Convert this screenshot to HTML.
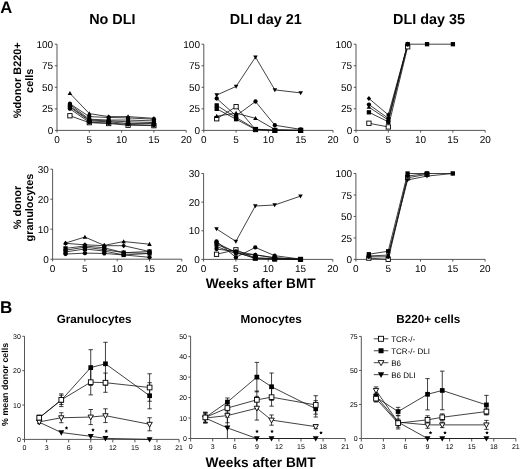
<!DOCTYPE html><html><head><meta charset="utf-8"><style>html,body{margin:0;padding:0;background:#fff;width:520px;height:469px;overflow:hidden;}svg{display:block;will-change:transform;}text{font-family:"Liberation Sans",sans-serif;text-rendering:geometricPrecision;}</style></head><body>
<svg width="520" height="469" viewBox="0 0 520 469">
<rect width="520" height="469" fill="#fff"/>
<text x="0.3" y="12.8" font-size="16.6" text-anchor="start" font-weight="bold" fill="#000">A</text>
<text x="0" y="312.5" font-size="17" text-anchor="start" font-weight="bold" fill="#000">B</text>
<text x="89.2" y="24.2" font-size="14.4" text-anchor="start" font-weight="bold" fill="#000">No DLI</text>
<text x="229.8" y="24.2" font-size="14.4" text-anchor="start" font-weight="bold" fill="#000">DLI day 21</text>
<text x="393" y="24.2" font-size="14.4" text-anchor="start" font-weight="bold" fill="#000">DLI day 35</text>
<g transform="translate(20.9,80.3) rotate(-90)"><text x="0" y="0" font-size="10.9" text-anchor="middle" font-weight="bold" fill="#000">%donor B220+</text><text x="-0.5" y="11.7" font-size="10.9" text-anchor="middle" font-weight="bold" fill="#000">cells</text></g>
<g transform="translate(21.2,207.55) rotate(-90)"><text x="0" y="0" font-size="10.9" text-anchor="middle" font-weight="bold" fill="#000">% donor</text><text x="0" y="12" font-size="10.9" text-anchor="middle" font-weight="bold" fill="#000">granulocytes</text></g>
<text x="205.7" y="287.6" font-size="13.7" text-anchor="start" font-weight="bold" fill="#000">Weeks after BMT</text>
<text x="205.5" y="467.4" font-size="13.7" text-anchor="start" font-weight="bold" fill="#000">Weeks after BMT</text>
<path d="M57 44.2V130.4H186.2" fill="none" stroke="#444" stroke-width="0.9"/>
<path d="M54.8 130.4H57" stroke="#444" stroke-width="0.9"/>
<text x="53.2" y="133.98" font-size="10" text-anchor="end" fill="#000">0</text>
<path d="M54.8 108.85H57" stroke="#444" stroke-width="0.9"/>
<text x="53.2" y="112.43" font-size="10" text-anchor="end" fill="#000">25</text>
<path d="M54.8 87.3H57" stroke="#444" stroke-width="0.9"/>
<text x="53.2" y="90.88" font-size="10" text-anchor="end" fill="#000">50</text>
<path d="M54.8 65.75H57" stroke="#444" stroke-width="0.9"/>
<text x="53.2" y="69.33" font-size="10" text-anchor="end" fill="#000">75</text>
<path d="M54.8 44.2H57" stroke="#444" stroke-width="0.9"/>
<text x="53.2" y="47.78" font-size="10" text-anchor="end" fill="#000">100</text>
<path d="M57 130.4V132.6" stroke="#444" stroke-width="0.9"/>
<text x="57" y="143.2" font-size="10" text-anchor="middle" fill="#000">0</text>
<path d="M89.3 130.4V132.6" stroke="#444" stroke-width="0.9"/>
<text x="89.3" y="143.2" font-size="10" text-anchor="middle" fill="#000">5</text>
<path d="M121.6 130.4V132.6" stroke="#444" stroke-width="0.9"/>
<text x="121.6" y="143.2" font-size="10" text-anchor="middle" fill="#000">10</text>
<path d="M153.9 130.4V132.6" stroke="#444" stroke-width="0.9"/>
<text x="153.9" y="143.2" font-size="10" text-anchor="middle" fill="#000">15</text>
<path d="M186.2 130.4V132.6" stroke="#444" stroke-width="0.9"/>
<text x="186.2" y="143.2" font-size="10" text-anchor="middle" fill="#000">20</text>
<path d="M203.8 44.2V130.4H333" fill="none" stroke="#444" stroke-width="0.9"/>
<path d="M201.6 130.4H203.8" stroke="#444" stroke-width="0.9"/>
<text x="200" y="133.98" font-size="10" text-anchor="end" fill="#000">0</text>
<path d="M201.6 108.85H203.8" stroke="#444" stroke-width="0.9"/>
<text x="200" y="112.43" font-size="10" text-anchor="end" fill="#000">25</text>
<path d="M201.6 87.3H203.8" stroke="#444" stroke-width="0.9"/>
<text x="200" y="90.88" font-size="10" text-anchor="end" fill="#000">50</text>
<path d="M201.6 65.75H203.8" stroke="#444" stroke-width="0.9"/>
<text x="200" y="69.33" font-size="10" text-anchor="end" fill="#000">75</text>
<path d="M201.6 44.2H203.8" stroke="#444" stroke-width="0.9"/>
<text x="200" y="47.78" font-size="10" text-anchor="end" fill="#000">100</text>
<path d="M203.8 130.4V132.6" stroke="#444" stroke-width="0.9"/>
<text x="203.8" y="143.2" font-size="10" text-anchor="middle" fill="#000">0</text>
<path d="M236.1 130.4V132.6" stroke="#444" stroke-width="0.9"/>
<text x="236.1" y="143.2" font-size="10" text-anchor="middle" fill="#000">5</text>
<path d="M268.4 130.4V132.6" stroke="#444" stroke-width="0.9"/>
<text x="268.4" y="143.2" font-size="10" text-anchor="middle" fill="#000">10</text>
<path d="M300.7 130.4V132.6" stroke="#444" stroke-width="0.9"/>
<text x="300.7" y="143.2" font-size="10" text-anchor="middle" fill="#000">15</text>
<path d="M333 130.4V132.6" stroke="#444" stroke-width="0.9"/>
<text x="333" y="143.2" font-size="10" text-anchor="middle" fill="#000">20</text>
<path d="M356 44.2V130.4H485.2" fill="none" stroke="#444" stroke-width="0.9"/>
<path d="M353.8 130.4H356" stroke="#444" stroke-width="0.9"/>
<text x="352.2" y="133.98" font-size="10" text-anchor="end" fill="#000">0</text>
<path d="M353.8 108.85H356" stroke="#444" stroke-width="0.9"/>
<text x="352.2" y="112.43" font-size="10" text-anchor="end" fill="#000">25</text>
<path d="M353.8 87.3H356" stroke="#444" stroke-width="0.9"/>
<text x="352.2" y="90.88" font-size="10" text-anchor="end" fill="#000">50</text>
<path d="M353.8 65.75H356" stroke="#444" stroke-width="0.9"/>
<text x="352.2" y="69.33" font-size="10" text-anchor="end" fill="#000">75</text>
<path d="M353.8 44.2H356" stroke="#444" stroke-width="0.9"/>
<text x="352.2" y="47.78" font-size="10" text-anchor="end" fill="#000">100</text>
<path d="M356 130.4V132.6" stroke="#444" stroke-width="0.9"/>
<text x="356" y="143.2" font-size="10" text-anchor="middle" fill="#000">0</text>
<path d="M388.3 130.4V132.6" stroke="#444" stroke-width="0.9"/>
<text x="388.3" y="143.2" font-size="10" text-anchor="middle" fill="#000">5</text>
<path d="M420.6 130.4V132.6" stroke="#444" stroke-width="0.9"/>
<text x="420.6" y="143.2" font-size="10" text-anchor="middle" fill="#000">10</text>
<path d="M452.9 130.4V132.6" stroke="#444" stroke-width="0.9"/>
<text x="452.9" y="143.2" font-size="10" text-anchor="middle" fill="#000">15</text>
<path d="M485.2 130.4V132.6" stroke="#444" stroke-width="0.9"/>
<text x="485.2" y="143.2" font-size="10" text-anchor="middle" fill="#000">20</text>
<polyline points="69.92,115.75 89.3,122.64 108.68,123.5 128.06,125.23 153.9,125.66" fill="none" stroke="#111" stroke-width="0.8"/>
<polyline points="69.92,93.33 89.3,113.59 108.68,116.61 128.06,116.61 153.9,118.33" fill="none" stroke="#111" stroke-width="0.8"/>
<polyline points="69.92,103.68 89.3,116.61 108.68,117.47 128.06,117.9 153.9,119.19" fill="none" stroke="#111" stroke-width="0.8"/>
<polyline points="69.92,104.54 89.3,119.19 108.68,120.06 128.06,120.06 153.9,120.92" fill="none" stroke="#111" stroke-width="0.8"/>
<polyline points="69.92,106.26 89.3,120.06 108.68,120.92 128.06,121.78 153.9,122.64" fill="none" stroke="#111" stroke-width="0.8"/>
<polyline points="69.92,107.13 89.3,120.92 108.68,121.78 128.06,123.5 153.9,123.5" fill="none" stroke="#111" stroke-width="0.8"/>
<polyline points="69.92,108.85 89.3,122.21 108.68,123.07 128.06,124.37 153.9,125.23" fill="none" stroke="#111" stroke-width="0.8"/>
<rect x="67.77" y="113.6" width="4.3" height="4.3" fill="#fff" stroke="#000" stroke-width="0.9"/>
<rect x="87.15" y="120.49" width="4.3" height="4.3" fill="#fff" stroke="#000" stroke-width="0.9"/>
<rect x="106.53" y="121.35" width="4.3" height="4.3" fill="#fff" stroke="#000" stroke-width="0.9"/>
<rect x="125.91" y="123.08" width="4.3" height="4.3" fill="#fff" stroke="#000" stroke-width="0.9"/>
<rect x="151.75" y="123.51" width="4.3" height="4.3" fill="#fff" stroke="#000" stroke-width="0.9"/>
<path d="M69.92 90.97L72.18 95.05L67.66 95.05Z" fill="#000"/>
<path d="M89.3 111.23L91.56 115.31L87.04 115.31Z" fill="#000"/>
<path d="M108.68 114.24L110.94 118.33L106.42 118.33Z" fill="#000"/>
<path d="M128.06 114.24L130.32 118.33L125.8 118.33Z" fill="#000"/>
<path d="M153.9 115.97L156.16 120.05L151.64 120.05Z" fill="#000"/>
<circle cx="69.92" cy="103.68" r="2.15" fill="#000"/>
<circle cx="89.3" cy="116.61" r="2.15" fill="#000"/>
<circle cx="108.68" cy="117.47" r="2.15" fill="#000"/>
<circle cx="128.06" cy="117.9" r="2.15" fill="#000"/>
<circle cx="153.9" cy="119.19" r="2.15" fill="#000"/>
<circle cx="69.92" cy="104.54" r="2.15" fill="#000"/>
<circle cx="89.3" cy="119.19" r="2.15" fill="#000"/>
<circle cx="108.68" cy="120.06" r="2.15" fill="#000"/>
<circle cx="128.06" cy="120.06" r="2.15" fill="#000"/>
<circle cx="153.9" cy="120.92" r="2.15" fill="#000"/>
<path d="M69.92 103.68L72.07 106.26L69.92 108.84L67.77 106.26Z" fill="#000"/>
<path d="M89.3 117.48L91.45 120.06L89.3 122.64L87.15 120.06Z" fill="#000"/>
<path d="M108.68 118.34L110.83 120.92L108.68 123.5L106.53 120.92Z" fill="#000"/>
<path d="M128.06 119.2L130.21 121.78L128.06 124.36L125.91 121.78Z" fill="#000"/>
<path d="M153.9 120.06L156.05 122.64L153.9 125.22L151.75 122.64Z" fill="#000"/>
<rect x="67.77" y="104.98" width="4.3" height="4.3" fill="#000"/>
<rect x="87.15" y="118.77" width="4.3" height="4.3" fill="#000"/>
<rect x="106.53" y="119.63" width="4.3" height="4.3" fill="#000"/>
<rect x="125.91" y="121.35" width="4.3" height="4.3" fill="#000"/>
<rect x="151.75" y="121.35" width="4.3" height="4.3" fill="#000"/>
<circle cx="69.92" cy="108.85" r="2.15" fill="#000"/>
<circle cx="89.3" cy="122.21" r="2.15" fill="#000"/>
<circle cx="108.68" cy="123.07" r="2.15" fill="#000"/>
<circle cx="128.06" cy="124.37" r="2.15" fill="#000"/>
<circle cx="153.9" cy="125.23" r="2.15" fill="#000"/>
<polyline points="216.72,118.76 236.1,106.7 255.48,129.54 274.86,130.4 300.7,130.4" fill="none" stroke="#111" stroke-width="0.8"/>
<polyline points="216.72,95.06 236.1,86.44 255.48,57.13 274.86,89.89 300.7,92.9" fill="none" stroke="#111" stroke-width="0.8"/>
<polyline points="216.72,98.51 236.1,115.75 255.48,101.52 274.86,125.23 300.7,129.37" fill="none" stroke="#111" stroke-width="0.8"/>
<polyline points="216.72,105.4 236.1,117.47 255.48,129.11 274.86,130.4 300.7,130.4" fill="none" stroke="#111" stroke-width="0.8"/>
<polyline points="216.72,108.85 236.1,119.19 255.48,129.54 274.86,130.4 300.7,130.4" fill="none" stroke="#111" stroke-width="0.8"/>
<polyline points="216.72,116.18 236.1,113.16 255.48,118.33 274.86,129.54 300.7,130.4" fill="none" stroke="#111" stroke-width="0.8"/>
<rect x="214.57" y="116.61" width="4.3" height="4.3" fill="#fff" stroke="#000" stroke-width="0.9"/>
<rect x="233.95" y="104.55" width="4.3" height="4.3" fill="#fff" stroke="#000" stroke-width="0.9"/>
<rect x="253.33" y="127.39" width="4.3" height="4.3" fill="#fff" stroke="#000" stroke-width="0.9"/>
<rect x="272.71" y="128.25" width="4.3" height="4.3" fill="#fff" stroke="#000" stroke-width="0.9"/>
<rect x="298.55" y="128.25" width="4.3" height="4.3" fill="#fff" stroke="#000" stroke-width="0.9"/>
<path d="M216.72 97.42L218.98 93.34L214.46 93.34Z" fill="#000"/>
<path d="M236.1 88.8L238.36 84.72L233.84 84.72Z" fill="#000"/>
<path d="M255.48 59.5L257.74 55.41L253.22 55.41Z" fill="#000"/>
<path d="M274.86 92.25L277.12 88.17L272.6 88.17Z" fill="#000"/>
<path d="M300.7 95.27L302.96 91.18L298.44 91.18Z" fill="#000"/>
<circle cx="216.72" cy="98.51" r="2.15" fill="#000"/>
<circle cx="236.1" cy="115.75" r="2.15" fill="#000"/>
<circle cx="255.48" cy="101.52" r="2.15" fill="#000"/>
<circle cx="274.86" cy="125.23" r="2.15" fill="#000"/>
<circle cx="300.7" cy="129.37" r="2.15" fill="#000"/>
<rect x="214.57" y="103.25" width="4.3" height="4.3" fill="#000"/>
<rect x="233.95" y="115.32" width="4.3" height="4.3" fill="#000"/>
<rect x="253.33" y="126.96" width="4.3" height="4.3" fill="#000"/>
<rect x="272.71" y="128.25" width="4.3" height="4.3" fill="#000"/>
<rect x="298.55" y="128.25" width="4.3" height="4.3" fill="#000"/>
<rect x="214.57" y="106.7" width="4.3" height="4.3" fill="#000"/>
<rect x="233.95" y="117.04" width="4.3" height="4.3" fill="#000"/>
<rect x="253.33" y="127.39" width="4.3" height="4.3" fill="#000"/>
<rect x="272.71" y="128.25" width="4.3" height="4.3" fill="#000"/>
<rect x="298.55" y="128.25" width="4.3" height="4.3" fill="#000"/>
<path d="M216.72 113.81L218.98 117.9L214.46 117.9Z" fill="#000"/>
<path d="M236.1 110.8L238.36 114.88L233.84 114.88Z" fill="#000"/>
<path d="M255.48 115.97L257.74 120.05L253.22 120.05Z" fill="#000"/>
<path d="M274.86 127.17L277.12 131.26L272.6 131.26Z" fill="#000"/>
<path d="M300.7 128.03L302.96 132.12L298.44 132.12Z" fill="#000"/>
<polyline points="368.92,123.25 388.3,126.95 407.68,46.79" fill="none" stroke="#111" stroke-width="0.8"/>
<polyline points="368.92,98.51 388.3,114.88 407.68,44.2" fill="none" stroke="#111" stroke-width="0.8"/>
<polyline points="368.92,104.54 388.3,118.33 407.68,44.2" fill="none" stroke="#111" stroke-width="0.8"/>
<polyline points="368.92,107.13 388.3,120.06 407.68,44.2" fill="none" stroke="#111" stroke-width="0.8"/>
<polyline points="368.92,112.3 388.3,121.78 407.68,44.2 427.06,44.2 452.9,44.2" fill="none" stroke="#111" stroke-width="0.8"/>
<rect x="366.77" y="121.1" width="4.3" height="4.3" fill="#fff" stroke="#000" stroke-width="0.9"/>
<rect x="386.15" y="124.8" width="4.3" height="4.3" fill="#fff" stroke="#000" stroke-width="0.9"/>
<rect x="405.53" y="44.64" width="4.3" height="4.3" fill="#fff" stroke="#000" stroke-width="0.9"/>
<path d="M368.92 95.93L371.07 98.51L368.92 101.09L366.77 98.51Z" fill="#000"/>
<path d="M388.3 112.3L390.45 114.88L388.3 117.46L386.15 114.88Z" fill="#000"/>
<path d="M407.68 41.62L409.83 44.2L407.68 46.78L405.53 44.2Z" fill="#000"/>
<circle cx="368.92" cy="104.54" r="2.15" fill="#000"/>
<circle cx="388.3" cy="118.33" r="2.15" fill="#000"/>
<circle cx="407.68" cy="44.2" r="2.15" fill="#000"/>
<path d="M368.92 104.76L371.18 108.85L366.66 108.85Z" fill="#000"/>
<path d="M388.3 117.69L390.56 121.78L386.04 121.78Z" fill="#000"/>
<path d="M407.68 41.84L409.94 45.92L405.42 45.92Z" fill="#000"/>
<rect x="366.77" y="110.15" width="4.3" height="4.3" fill="#000"/>
<rect x="386.15" y="119.63" width="4.3" height="4.3" fill="#000"/>
<rect x="405.53" y="42.05" width="4.3" height="4.3" fill="#000"/>
<rect x="424.91" y="42.05" width="4.3" height="4.3" fill="#000"/>
<rect x="450.75" y="42.05" width="4.3" height="4.3" fill="#000"/>
<path d="M52.6 169.2V259.2H181.8" fill="none" stroke="#444" stroke-width="0.9"/>
<path d="M50.4 259.2H52.6" stroke="#444" stroke-width="0.9"/>
<text x="48.8" y="262.78" font-size="10" text-anchor="end" fill="#000">0</text>
<path d="M50.4 229.2H52.6" stroke="#444" stroke-width="0.9"/>
<text x="48.8" y="232.78" font-size="10" text-anchor="end" fill="#000">10</text>
<path d="M50.4 199.2H52.6" stroke="#444" stroke-width="0.9"/>
<text x="48.8" y="202.78" font-size="10" text-anchor="end" fill="#000">20</text>
<path d="M50.4 169.2H52.6" stroke="#444" stroke-width="0.9"/>
<text x="48.8" y="172.78" font-size="10" text-anchor="end" fill="#000">30</text>
<path d="M52.6 259.2V261.4" stroke="#444" stroke-width="0.9"/>
<text x="52.6" y="272" font-size="10" text-anchor="middle" fill="#000">0</text>
<path d="M84.9 259.2V261.4" stroke="#444" stroke-width="0.9"/>
<text x="84.9" y="272" font-size="10" text-anchor="middle" fill="#000">5</text>
<path d="M117.2 259.2V261.4" stroke="#444" stroke-width="0.9"/>
<text x="117.2" y="272" font-size="10" text-anchor="middle" fill="#000">10</text>
<path d="M149.5 259.2V261.4" stroke="#444" stroke-width="0.9"/>
<text x="149.5" y="272" font-size="10" text-anchor="middle" fill="#000">15</text>
<path d="M181.8 259.2V261.4" stroke="#444" stroke-width="0.9"/>
<text x="181.8" y="272" font-size="10" text-anchor="middle" fill="#000">20</text>
<path d="M203.6 173.51V259.4H332.8" fill="none" stroke="#444" stroke-width="0.9"/>
<path d="M201.4 259.4H203.6" stroke="#444" stroke-width="0.9"/>
<text x="199.8" y="262.98" font-size="10" text-anchor="end" fill="#000">0</text>
<path d="M201.4 230.77H203.6" stroke="#444" stroke-width="0.9"/>
<text x="199.8" y="234.35" font-size="10" text-anchor="end" fill="#000">10</text>
<path d="M201.4 202.14H203.6" stroke="#444" stroke-width="0.9"/>
<text x="199.8" y="205.72" font-size="10" text-anchor="end" fill="#000">20</text>
<path d="M201.4 173.51H203.6" stroke="#444" stroke-width="0.9"/>
<text x="199.8" y="177.09" font-size="10" text-anchor="end" fill="#000">30</text>
<path d="M203.6 259.4V261.6" stroke="#444" stroke-width="0.9"/>
<text x="203.6" y="272.2" font-size="10" text-anchor="middle" fill="#000">0</text>
<path d="M235.9 259.4V261.6" stroke="#444" stroke-width="0.9"/>
<text x="235.9" y="272.2" font-size="10" text-anchor="middle" fill="#000">5</text>
<path d="M268.2 259.4V261.6" stroke="#444" stroke-width="0.9"/>
<text x="268.2" y="272.2" font-size="10" text-anchor="middle" fill="#000">10</text>
<path d="M300.5 259.4V261.6" stroke="#444" stroke-width="0.9"/>
<text x="300.5" y="272.2" font-size="10" text-anchor="middle" fill="#000">15</text>
<path d="M332.8 259.4V261.6" stroke="#444" stroke-width="0.9"/>
<text x="332.8" y="272.2" font-size="10" text-anchor="middle" fill="#000">20</text>
<path d="M355.9 173.5V259.4H485.1" fill="none" stroke="#444" stroke-width="0.9"/>
<path d="M353.7 259.4H355.9" stroke="#444" stroke-width="0.9"/>
<text x="352.1" y="262.98" font-size="10" text-anchor="end" fill="#000">0</text>
<path d="M353.7 237.92H355.9" stroke="#444" stroke-width="0.9"/>
<text x="352.1" y="241.5" font-size="10" text-anchor="end" fill="#000">25</text>
<path d="M353.7 216.45H355.9" stroke="#444" stroke-width="0.9"/>
<text x="352.1" y="220.03" font-size="10" text-anchor="end" fill="#000">50</text>
<path d="M353.7 194.97H355.9" stroke="#444" stroke-width="0.9"/>
<text x="352.1" y="198.55" font-size="10" text-anchor="end" fill="#000">75</text>
<path d="M353.7 173.5H355.9" stroke="#444" stroke-width="0.9"/>
<text x="352.1" y="177.08" font-size="10" text-anchor="end" fill="#000">100</text>
<path d="M355.9 259.4V261.6" stroke="#444" stroke-width="0.9"/>
<text x="355.9" y="272.2" font-size="10" text-anchor="middle" fill="#000">0</text>
<path d="M388.2 259.4V261.6" stroke="#444" stroke-width="0.9"/>
<text x="388.2" y="272.2" font-size="10" text-anchor="middle" fill="#000">5</text>
<path d="M420.5 259.4V261.6" stroke="#444" stroke-width="0.9"/>
<text x="420.5" y="272.2" font-size="10" text-anchor="middle" fill="#000">10</text>
<path d="M452.8 259.4V261.6" stroke="#444" stroke-width="0.9"/>
<text x="452.8" y="272.2" font-size="10" text-anchor="middle" fill="#000">15</text>
<path d="M485.1 259.4V261.6" stroke="#444" stroke-width="0.9"/>
<text x="485.1" y="272.2" font-size="10" text-anchor="middle" fill="#000">20</text>
<polyline points="65.52,243.03 84.9,237.06 104.28,245.4 123.66,241.53 149.5,244.23" fill="none" stroke="#111" stroke-width="0.8"/>
<polyline points="65.52,243.33 84.9,244.8 104.28,245.7 123.66,245.7 149.5,251.52" fill="none" stroke="#111" stroke-width="0.8"/>
<polyline points="65.52,248.37 84.9,246 104.28,247.8 123.66,252.69 149.5,251.52" fill="none" stroke="#111" stroke-width="0.8"/>
<polyline points="65.52,250.17 84.9,247.2 104.28,249.57 123.66,252.69 149.5,253.44" fill="none" stroke="#111" stroke-width="0.8"/>
<polyline points="65.52,251.94 84.9,248.97 104.28,251.07 123.66,254.94 149.5,253.44" fill="none" stroke="#111" stroke-width="0.8"/>
<polyline points="65.52,254.04 84.9,253.14 104.28,253.44 123.66,254.94 149.5,257.31" fill="none" stroke="#111" stroke-width="0.8"/>
<path d="M65.52 240.66L67.78 244.75L63.26 244.75Z" fill="#000"/>
<path d="M84.9 234.69L87.16 238.78L82.64 238.78Z" fill="#000"/>
<path d="M104.28 243.03L106.54 247.12L102.02 247.12Z" fill="#000"/>
<path d="M123.66 239.16L125.92 243.25L121.4 243.25Z" fill="#000"/>
<path d="M149.5 241.86L151.76 245.95L147.24 245.95Z" fill="#000"/>
<path d="M65.52 240.75L67.67 243.33L65.52 245.91L63.37 243.33Z" fill="#000"/>
<path d="M84.9 242.22L87.05 244.8L84.9 247.38L82.75 244.8Z" fill="#000"/>
<path d="M104.28 243.12L106.43 245.7L104.28 248.28L102.13 245.7Z" fill="#000"/>
<path d="M123.66 243.12L125.81 245.7L123.66 248.28L121.51 245.7Z" fill="#000"/>
<path d="M149.5 248.94L151.65 251.52L149.5 254.1L147.35 251.52Z" fill="#000"/>
<rect x="63.37" y="246.22" width="4.3" height="4.3" fill="#000"/>
<rect x="82.75" y="243.85" width="4.3" height="4.3" fill="#000"/>
<rect x="102.13" y="245.65" width="4.3" height="4.3" fill="#000"/>
<rect x="121.51" y="250.54" width="4.3" height="4.3" fill="#000"/>
<rect x="147.35" y="249.37" width="4.3" height="4.3" fill="#000"/>
<path d="M65.52 247.59L67.67 250.17L65.52 252.75L63.37 250.17Z" fill="#000"/>
<path d="M84.9 244.62L87.05 247.2L84.9 249.78L82.75 247.2Z" fill="#000"/>
<path d="M104.28 246.99L106.43 249.57L104.28 252.15L102.13 249.57Z" fill="#000"/>
<path d="M123.66 250.11L125.81 252.69L123.66 255.27L121.51 252.69Z" fill="#000"/>
<path d="M149.5 250.86L151.65 253.44L149.5 256.02L147.35 253.44Z" fill="#000"/>
<rect x="63.37" y="249.79" width="4.3" height="4.3" fill="#000"/>
<rect x="82.75" y="246.82" width="4.3" height="4.3" fill="#000"/>
<rect x="102.13" y="248.92" width="4.3" height="4.3" fill="#000"/>
<rect x="121.51" y="252.79" width="4.3" height="4.3" fill="#000"/>
<rect x="147.35" y="251.29" width="4.3" height="4.3" fill="#000"/>
<circle cx="65.52" cy="254.04" r="2.15" fill="#000"/>
<circle cx="84.9" cy="253.14" r="2.15" fill="#000"/>
<circle cx="104.28" cy="253.44" r="2.15" fill="#000"/>
<circle cx="123.66" cy="254.94" r="2.15" fill="#000"/>
<circle cx="149.5" cy="257.31" r="2.15" fill="#000"/>
<polyline points="216.52,254.25 235.9,249.81 255.28,257.97 274.66,258.83 300.5,259.4" fill="none" stroke="#111" stroke-width="0.8"/>
<polyline points="216.52,228.91 235.9,241.36 255.28,206.01 274.66,205 300.5,196.13" fill="none" stroke="#111" stroke-width="0.8"/>
<polyline points="216.52,241.36 235.9,257.4 255.28,247.38 274.66,255.68 300.5,259.11" fill="none" stroke="#111" stroke-width="0.8"/>
<polyline points="216.52,242.79 235.9,252.53 255.28,257.97 274.66,258.54 300.5,259.4" fill="none" stroke="#111" stroke-width="0.8"/>
<polyline points="216.52,244.51 235.9,251.96 255.28,258.54 274.66,259.4 300.5,259.4" fill="none" stroke="#111" stroke-width="0.8"/>
<polyline points="216.52,249.09 235.9,251.38 255.28,254.82 274.66,257.68 300.5,259.4" fill="none" stroke="#111" stroke-width="0.8"/>
<polyline points="216.52,246.52 235.9,253.67 255.28,254.82 274.66,257.97 300.5,259.4" fill="none" stroke="#111" stroke-width="0.8"/>
<rect x="214.37" y="252.1" width="4.3" height="4.3" fill="#fff" stroke="#000" stroke-width="0.9"/>
<rect x="233.75" y="247.66" width="4.3" height="4.3" fill="#fff" stroke="#000" stroke-width="0.9"/>
<rect x="253.13" y="255.82" width="4.3" height="4.3" fill="#fff" stroke="#000" stroke-width="0.9"/>
<rect x="272.51" y="256.68" width="4.3" height="4.3" fill="#fff" stroke="#000" stroke-width="0.9"/>
<rect x="298.35" y="257.25" width="4.3" height="4.3" fill="#fff" stroke="#000" stroke-width="0.9"/>
<path d="M216.52 231.27L218.78 227.19L214.26 227.19Z" fill="#000"/>
<path d="M235.9 243.73L238.16 239.64L233.64 239.64Z" fill="#000"/>
<path d="M255.28 208.37L257.54 204.29L253.02 204.29Z" fill="#000"/>
<path d="M274.66 207.37L276.92 203.28L272.4 203.28Z" fill="#000"/>
<path d="M300.5 198.49L302.76 194.41L298.24 194.41Z" fill="#000"/>
<circle cx="216.52" cy="241.36" r="2.15" fill="#000"/>
<circle cx="235.9" cy="257.4" r="2.15" fill="#000"/>
<circle cx="255.28" cy="247.38" r="2.15" fill="#000"/>
<circle cx="274.66" cy="255.68" r="2.15" fill="#000"/>
<circle cx="300.5" cy="259.11" r="2.15" fill="#000"/>
<circle cx="216.52" cy="242.79" r="2.15" fill="#000"/>
<circle cx="235.9" cy="252.53" r="2.15" fill="#000"/>
<circle cx="255.28" cy="257.97" r="2.15" fill="#000"/>
<circle cx="274.66" cy="258.54" r="2.15" fill="#000"/>
<circle cx="300.5" cy="259.4" r="2.15" fill="#000"/>
<rect x="214.37" y="242.36" width="4.3" height="4.3" fill="#000"/>
<rect x="233.75" y="249.81" width="4.3" height="4.3" fill="#000"/>
<rect x="253.13" y="256.39" width="4.3" height="4.3" fill="#000"/>
<rect x="272.51" y="257.25" width="4.3" height="4.3" fill="#000"/>
<rect x="298.35" y="257.25" width="4.3" height="4.3" fill="#000"/>
<circle cx="216.52" cy="249.09" r="2.15" fill="#000"/>
<circle cx="235.9" cy="251.38" r="2.15" fill="#000"/>
<circle cx="255.28" cy="254.82" r="2.15" fill="#000"/>
<circle cx="274.66" cy="257.68" r="2.15" fill="#000"/>
<circle cx="300.5" cy="259.4" r="2.15" fill="#000"/>
<path d="M216.52 244.15L218.78 248.24L214.26 248.24Z" fill="#000"/>
<path d="M235.9 251.31L238.16 255.39L233.64 255.39Z" fill="#000"/>
<path d="M255.28 252.45L257.54 256.54L253.02 256.54Z" fill="#000"/>
<path d="M274.66 255.6L276.92 259.69L272.4 259.69Z" fill="#000"/>
<path d="M300.5 257.03L302.76 261.12L298.24 261.12Z" fill="#000"/>
<polyline points="368.82,258.11 388.2,259.4 407.58,177.79 426.96,174.36" fill="none" stroke="#111" stroke-width="0.8"/>
<polyline points="368.82,256.82 388.2,256.82 407.58,176.08 426.96,173.5" fill="none" stroke="#111" stroke-width="0.8"/>
<polyline points="368.82,255.96 388.2,255.1 407.58,179.94 426.96,176.08 452.8,173.5" fill="none" stroke="#111" stroke-width="0.8"/>
<polyline points="368.82,254.25 388.2,251.24 407.58,173.5 426.96,173.5 452.8,173.5" fill="none" stroke="#111" stroke-width="0.8"/>
<rect x="366.67" y="255.96" width="4.3" height="4.3" fill="#fff" stroke="#000" stroke-width="0.9"/>
<rect x="386.05" y="257.25" width="4.3" height="4.3" fill="#fff" stroke="#000" stroke-width="0.9"/>
<rect x="405.43" y="175.64" width="4.3" height="4.3" fill="#fff" stroke="#000" stroke-width="0.9"/>
<rect x="424.81" y="172.21" width="4.3" height="4.3" fill="#fff" stroke="#000" stroke-width="0.9"/>
<circle cx="368.82" cy="256.82" r="2.15" fill="#000"/>
<circle cx="388.2" cy="256.82" r="2.15" fill="#000"/>
<circle cx="407.58" cy="176.08" r="2.15" fill="#000"/>
<circle cx="426.96" cy="173.5" r="2.15" fill="#000"/>
<path d="M368.82 258.33L371.08 254.24L366.56 254.24Z" fill="#000"/>
<path d="M388.2 257.47L390.46 253.38L385.94 253.38Z" fill="#000"/>
<path d="M407.58 182.31L409.84 178.22L405.32 178.22Z" fill="#000"/>
<path d="M426.96 178.44L429.22 174.36L424.7 174.36Z" fill="#000"/>
<path d="M452.8 175.86L455.06 171.78L450.54 171.78Z" fill="#000"/>
<rect x="366.67" y="252.1" width="4.3" height="4.3" fill="#000"/>
<rect x="386.05" y="249.09" width="4.3" height="4.3" fill="#000"/>
<rect x="405.43" y="171.35" width="4.3" height="4.3" fill="#000"/>
<rect x="424.81" y="171.35" width="4.3" height="4.3" fill="#000"/>
<rect x="450.65" y="171.35" width="4.3" height="4.3" fill="#000"/>
<text x="56.7" y="323.3" font-size="11.7" text-anchor="start" font-weight="bold" fill="#000">Granulocytes</text>
<text x="240.6" y="323.3" font-size="11.7" text-anchor="start" font-weight="bold" fill="#000">Monocytes</text>
<text x="396.3" y="323.3" font-size="11.7" text-anchor="start" font-weight="bold" fill="#000">B220+ cells</text>
<g transform="translate(7.8,384.4) rotate(-90)"><text x="0" y="0" font-size="8.85" text-anchor="middle" font-weight="bold" fill="#000">% mean donor cells</text></g>
<path d="M24.5 336.29V439.4H179.06" fill="none" stroke="#444" stroke-width="0.9"/>
<path d="M22.3 439.4H24.5" stroke="#444" stroke-width="0.9"/>
<text x="20.9" y="441.91" font-size="7" text-anchor="end" fill="#000">0</text>
<path d="M22.3 405.03H24.5" stroke="#444" stroke-width="0.9"/>
<text x="20.9" y="407.54" font-size="7" text-anchor="end" fill="#000">10</text>
<path d="M22.3 370.66H24.5" stroke="#444" stroke-width="0.9"/>
<text x="20.9" y="373.17" font-size="7" text-anchor="end" fill="#000">20</text>
<path d="M22.3 336.29H24.5" stroke="#444" stroke-width="0.9"/>
<text x="20.9" y="338.8" font-size="7" text-anchor="end" fill="#000">30</text>
<path d="M24.5 439.4V442.4" stroke="#444" stroke-width="0.9"/>
<text x="24.5" y="449.9" font-size="7" text-anchor="middle" fill="#000">0</text>
<path d="M46.58 439.4V442.4" stroke="#444" stroke-width="0.9"/>
<text x="46.58" y="449.9" font-size="7" text-anchor="middle" fill="#000">3</text>
<path d="M68.66 439.4V442.4" stroke="#444" stroke-width="0.9"/>
<text x="68.66" y="449.9" font-size="7" text-anchor="middle" fill="#000">6</text>
<path d="M90.74 439.4V442.4" stroke="#444" stroke-width="0.9"/>
<text x="90.74" y="449.9" font-size="7" text-anchor="middle" fill="#000">9</text>
<path d="M112.82 439.4V442.4" stroke="#444" stroke-width="0.9"/>
<text x="112.82" y="449.9" font-size="7" text-anchor="middle" fill="#000">12</text>
<path d="M134.9 439.4V442.4" stroke="#444" stroke-width="0.9"/>
<text x="134.9" y="449.9" font-size="7" text-anchor="middle" fill="#000">15</text>
<path d="M156.98 439.4V442.4" stroke="#444" stroke-width="0.9"/>
<text x="156.98" y="449.9" font-size="7" text-anchor="middle" fill="#000">18</text>
<path d="M179.06 439.4V442.4" stroke="#444" stroke-width="0.9"/>
<text x="179.06" y="449.9" font-size="7" text-anchor="middle" fill="#000">21</text>
<path d="M190.6 336.2V438.5H345.16" fill="none" stroke="#444" stroke-width="0.9"/>
<path d="M188.4 438.5H190.6" stroke="#444" stroke-width="0.9"/>
<text x="187" y="441.01" font-size="7" text-anchor="end" fill="#000">0</text>
<path d="M188.4 418.04H190.6" stroke="#444" stroke-width="0.9"/>
<text x="187" y="420.55" font-size="7" text-anchor="end" fill="#000">10</text>
<path d="M188.4 397.58H190.6" stroke="#444" stroke-width="0.9"/>
<text x="187" y="400.09" font-size="7" text-anchor="end" fill="#000">20</text>
<path d="M188.4 377.12H190.6" stroke="#444" stroke-width="0.9"/>
<text x="187" y="379.63" font-size="7" text-anchor="end" fill="#000">30</text>
<path d="M188.4 356.66H190.6" stroke="#444" stroke-width="0.9"/>
<text x="187" y="359.17" font-size="7" text-anchor="end" fill="#000">40</text>
<path d="M188.4 336.2H190.6" stroke="#444" stroke-width="0.9"/>
<text x="187" y="338.71" font-size="7" text-anchor="end" fill="#000">50</text>
<path d="M190.6 438.5V441.5" stroke="#444" stroke-width="0.9"/>
<text x="190.6" y="449" font-size="7" text-anchor="middle" fill="#000">0</text>
<path d="M212.68 438.5V441.5" stroke="#444" stroke-width="0.9"/>
<text x="212.68" y="449" font-size="7" text-anchor="middle" fill="#000">3</text>
<path d="M234.76 438.5V441.5" stroke="#444" stroke-width="0.9"/>
<text x="234.76" y="449" font-size="7" text-anchor="middle" fill="#000">6</text>
<path d="M256.84 438.5V441.5" stroke="#444" stroke-width="0.9"/>
<text x="256.84" y="449" font-size="7" text-anchor="middle" fill="#000">9</text>
<path d="M278.92 438.5V441.5" stroke="#444" stroke-width="0.9"/>
<text x="278.92" y="449" font-size="7" text-anchor="middle" fill="#000">12</text>
<path d="M301 438.5V441.5" stroke="#444" stroke-width="0.9"/>
<text x="301" y="449" font-size="7" text-anchor="middle" fill="#000">15</text>
<path d="M323.08 438.5V441.5" stroke="#444" stroke-width="0.9"/>
<text x="323.08" y="449" font-size="7" text-anchor="middle" fill="#000">18</text>
<path d="M345.16 438.5V441.5" stroke="#444" stroke-width="0.9"/>
<text x="345.16" y="449" font-size="7" text-anchor="middle" fill="#000">21</text>
<path d="M361.3 336.43V438.5H515.86" fill="none" stroke="#444" stroke-width="0.9"/>
<path d="M359.1 438.5H361.3" stroke="#444" stroke-width="0.9"/>
<text x="357.7" y="441.01" font-size="7" text-anchor="end" fill="#000">0</text>
<path d="M359.1 404.48H361.3" stroke="#444" stroke-width="0.9"/>
<text x="357.7" y="406.98" font-size="7" text-anchor="end" fill="#000">25</text>
<path d="M359.1 370.45H361.3" stroke="#444" stroke-width="0.9"/>
<text x="357.7" y="372.96" font-size="7" text-anchor="end" fill="#000">50</text>
<path d="M359.1 336.43H361.3" stroke="#444" stroke-width="0.9"/>
<text x="357.7" y="338.93" font-size="7" text-anchor="end" fill="#000">75</text>
<path d="M361.3 438.5V441.5" stroke="#444" stroke-width="0.9"/>
<text x="361.3" y="449" font-size="7" text-anchor="middle" fill="#000">0</text>
<path d="M383.38 438.5V441.5" stroke="#444" stroke-width="0.9"/>
<text x="383.38" y="449" font-size="7" text-anchor="middle" fill="#000">3</text>
<path d="M405.46 438.5V441.5" stroke="#444" stroke-width="0.9"/>
<text x="405.46" y="449" font-size="7" text-anchor="middle" fill="#000">6</text>
<path d="M427.54 438.5V441.5" stroke="#444" stroke-width="0.9"/>
<text x="427.54" y="449" font-size="7" text-anchor="middle" fill="#000">9</text>
<path d="M449.62 438.5V441.5" stroke="#444" stroke-width="0.9"/>
<text x="449.62" y="449" font-size="7" text-anchor="middle" fill="#000">12</text>
<path d="M471.7 438.5V441.5" stroke="#444" stroke-width="0.9"/>
<text x="471.7" y="449" font-size="7" text-anchor="middle" fill="#000">15</text>
<path d="M493.78 438.5V441.5" stroke="#444" stroke-width="0.9"/>
<text x="493.78" y="449" font-size="7" text-anchor="middle" fill="#000">18</text>
<path d="M515.86 438.5V441.5" stroke="#444" stroke-width="0.9"/>
<text x="515.86" y="449" font-size="7" text-anchor="middle" fill="#000">21</text>
<polyline points="39.22,422.21 61.3,432.53 90.74,436.31 105.46,438.37 149.62,439.4" fill="none" stroke="#111" stroke-width="0.8"/>
<polyline points="39.22,421.87 61.3,417.75 90.74,417.06 105.46,415.68 149.62,424.28" fill="none" stroke="#111" stroke-width="0.8"/>
<path d="M39.22 420.15V423.59M37.02 420.15H41.42" stroke="#111" stroke-width="0.8" fill="none"/>
<path d="M37.02 423.59H41.42" stroke="#111" stroke-width="0.8"/>
<path d="M61.3 412.76V422.73M59.1 412.76H63.5" stroke="#111" stroke-width="0.8" fill="none"/>
<path d="M59.1 422.73H63.5" stroke="#111" stroke-width="0.8"/>
<path d="M90.74 409.5V424.62M88.54 409.5H92.94" stroke="#111" stroke-width="0.8" fill="none"/>
<path d="M88.54 424.62H92.94" stroke="#111" stroke-width="0.8"/>
<path d="M105.46 408.81V422.56M103.26 408.81H107.66" stroke="#111" stroke-width="0.8" fill="none"/>
<path d="M103.26 422.56H107.66" stroke="#111" stroke-width="0.8"/>
<path d="M149.62 417.75V430.81M147.42 417.75H151.82" stroke="#111" stroke-width="0.8" fill="none"/>
<path d="M147.42 430.81H151.82" stroke="#111" stroke-width="0.8"/>
<polyline points="39.22,417.92 61.3,400.22 90.74,367.57 105.46,363.79 149.62,395.75" fill="none" stroke="#111" stroke-width="0.8"/>
<path d="M39.22 416.2V419.64M37.02 416.2H41.42" stroke="#111" stroke-width="0.8" fill="none"/>
<path d="M37.02 419.64H41.42" stroke="#111" stroke-width="0.8"/>
<path d="M61.3 393.86V406.58M59.1 393.86H63.5" stroke="#111" stroke-width="0.8" fill="none"/>
<path d="M59.1 406.58H63.5" stroke="#111" stroke-width="0.8"/>
<path d="M90.74 349.69V385.44M88.54 349.69H92.94" stroke="#111" stroke-width="0.8" fill="none"/>
<path d="M88.54 385.44H92.94" stroke="#111" stroke-width="0.8"/>
<path d="M105.46 342.3V385.27M103.26 342.3H107.66" stroke="#111" stroke-width="0.8" fill="none"/>
<path d="M103.26 385.27H107.66" stroke="#111" stroke-width="0.8"/>
<path d="M149.62 382.69V408.81M147.42 382.69H151.82" stroke="#111" stroke-width="0.8" fill="none"/>
<path d="M147.42 408.81H151.82" stroke="#111" stroke-width="0.8"/>
<polyline points="39.22,417.75 61.3,399.87 90.74,382.17 105.46,382.69 149.62,387.5" fill="none" stroke="#111" stroke-width="0.8"/>
<path d="M39.22 415V420.5M37.02 415H41.42" stroke="#111" stroke-width="0.8" fill="none"/>
<path d="M37.02 420.5H41.42" stroke="#111" stroke-width="0.8"/>
<path d="M61.3 395.23V404.51M59.1 395.23H63.5" stroke="#111" stroke-width="0.8" fill="none"/>
<path d="M59.1 404.51H63.5" stroke="#111" stroke-width="0.8"/>
<path d="M90.74 369.46V394.89M88.54 369.46H92.94" stroke="#111" stroke-width="0.8" fill="none"/>
<path d="M88.54 394.89H92.94" stroke="#111" stroke-width="0.8"/>
<path d="M105.46 373.07V392.31M103.26 373.07H107.66" stroke="#111" stroke-width="0.8" fill="none"/>
<path d="M103.26 392.31H107.66" stroke="#111" stroke-width="0.8"/>
<path d="M149.62 373.75V401.25M147.42 373.75H151.82" stroke="#111" stroke-width="0.8" fill="none"/>
<path d="M147.42 401.25H151.82" stroke="#111" stroke-width="0.8"/>
<path d="M39.22 425.32L42.18 419.96L36.26 419.96Z" fill="#000"/>
<path d="M61.3 435.63L64.26 430.27L58.34 430.27Z" fill="#000"/>
<path d="M90.74 439.41L93.7 434.05L87.78 434.05Z" fill="#000"/>
<path d="M105.46 441.47L108.42 436.11L102.5 436.11Z" fill="#000"/>
<path d="M149.62 442.5L152.58 437.14L146.66 437.14Z" fill="#000"/>
<path d="M39.22 424.69L41.9 419.9L36.54 419.9Z" fill="#fff" stroke="#000" stroke-width="0.9"/>
<path d="M61.3 420.57L63.98 415.77L58.62 415.77Z" fill="#fff" stroke="#000" stroke-width="0.9"/>
<path d="M90.74 419.88L93.42 415.09L88.06 415.09Z" fill="#fff" stroke="#000" stroke-width="0.9"/>
<path d="M105.46 418.5L108.14 413.71L102.78 413.71Z" fill="#fff" stroke="#000" stroke-width="0.9"/>
<path d="M149.62 427.1L152.3 422.3L146.94 422.3Z" fill="#fff" stroke="#000" stroke-width="0.9"/>
<rect x="36.87" y="415.57" width="4.7" height="4.7" fill="#000"/>
<rect x="58.95" y="397.87" width="4.7" height="4.7" fill="#000"/>
<rect x="88.39" y="365.22" width="4.7" height="4.7" fill="#000"/>
<rect x="103.11" y="361.44" width="4.7" height="4.7" fill="#000"/>
<rect x="147.27" y="393.4" width="4.7" height="4.7" fill="#000"/>
<rect x="36.87" y="415.4" width="4.7" height="4.7" fill="#fff" stroke="#000" stroke-width="0.9"/>
<rect x="58.95" y="397.52" width="4.7" height="4.7" fill="#fff" stroke="#000" stroke-width="0.9"/>
<rect x="88.39" y="379.82" width="4.7" height="4.7" fill="#fff" stroke="#000" stroke-width="0.9"/>
<rect x="103.11" y="380.34" width="4.7" height="4.7" fill="#fff" stroke="#000" stroke-width="0.9"/>
<rect x="147.27" y="385.15" width="4.7" height="4.7" fill="#fff" stroke="#000" stroke-width="0.9"/>
<polyline points="205.32,418.04 227.4,427.86 256.84,438.5 271.56,438.5 315.72,438.5" fill="none" stroke="#111" stroke-width="0.8"/>
<path d="M205.32 413.95V422.13M203.12 413.95H207.52" stroke="#111" stroke-width="0.8" fill="none"/>
<path d="M203.12 422.13H207.52" stroke="#111" stroke-width="0.8"/>
<path d="M227.4 417.22V438.5M225.2 417.22H229.6" stroke="#111" stroke-width="0.8" fill="none"/>
<polyline points="205.32,418.04 227.4,415.58 256.84,408.22 271.56,420.09 315.72,426.63" fill="none" stroke="#111" stroke-width="0.8"/>
<path d="M205.32 412.93V423.15M203.12 412.93H207.52" stroke="#111" stroke-width="0.8" fill="none"/>
<path d="M203.12 423.15H207.52" stroke="#111" stroke-width="0.8"/>
<path d="M227.4 408.42V422.75M225.2 408.42H229.6" stroke="#111" stroke-width="0.8" fill="none"/>
<path d="M225.2 422.75H229.6" stroke="#111" stroke-width="0.8"/>
<path d="M256.84 396.35V420.09M254.64 396.35H259.04" stroke="#111" stroke-width="0.8" fill="none"/>
<path d="M254.64 420.09H259.04" stroke="#111" stroke-width="0.8"/>
<path d="M271.56 414.97V425.2M269.36 414.97H273.76" stroke="#111" stroke-width="0.8" fill="none"/>
<path d="M269.36 425.2H273.76" stroke="#111" stroke-width="0.8"/>
<path d="M315.72 424.59V428.68M313.52 424.59H317.92" stroke="#111" stroke-width="0.8" fill="none"/>
<path d="M313.52 428.68H317.92" stroke="#111" stroke-width="0.8"/>
<polyline points="205.32,417.43 227.4,402.08 256.84,377.12 271.56,386.74 315.72,408.83" fill="none" stroke="#111" stroke-width="0.8"/>
<path d="M205.32 412.31V422.54M203.12 412.31H207.52" stroke="#111" stroke-width="0.8" fill="none"/>
<path d="M203.12 422.54H207.52" stroke="#111" stroke-width="0.8"/>
<path d="M227.4 397.99V406.17M225.2 397.99H229.6" stroke="#111" stroke-width="0.8" fill="none"/>
<path d="M225.2 406.17H229.6" stroke="#111" stroke-width="0.8"/>
<path d="M256.84 362.39V391.85M254.64 362.39H259.04" stroke="#111" stroke-width="0.8" fill="none"/>
<path d="M254.64 391.85H259.04" stroke="#111" stroke-width="0.8"/>
<path d="M271.56 373.03V400.44M269.36 373.03H273.76" stroke="#111" stroke-width="0.8" fill="none"/>
<path d="M269.36 400.44H273.76" stroke="#111" stroke-width="0.8"/>
<path d="M315.72 400.65V417.02M313.52 400.65H317.92" stroke="#111" stroke-width="0.8" fill="none"/>
<path d="M313.52 417.02H317.92" stroke="#111" stroke-width="0.8"/>
<polyline points="205.32,417.43 227.4,408.01 256.84,399.83 271.56,397.17 315.72,404.95" fill="none" stroke="#111" stroke-width="0.8"/>
<path d="M205.32 412.31V422.54M203.12 412.31H207.52" stroke="#111" stroke-width="0.8" fill="none"/>
<path d="M203.12 422.54H207.52" stroke="#111" stroke-width="0.8"/>
<path d="M227.4 403.92V412.11M225.2 403.92H229.6" stroke="#111" stroke-width="0.8" fill="none"/>
<path d="M225.2 412.11H229.6" stroke="#111" stroke-width="0.8"/>
<path d="M256.84 391.03V408.63M254.64 391.03H259.04" stroke="#111" stroke-width="0.8" fill="none"/>
<path d="M254.64 408.63H259.04" stroke="#111" stroke-width="0.8"/>
<path d="M271.56 388.17V406.17M269.36 388.17H273.76" stroke="#111" stroke-width="0.8" fill="none"/>
<path d="M269.36 406.17H273.76" stroke="#111" stroke-width="0.8"/>
<path d="M315.72 395.74V414.15M313.52 395.74H317.92" stroke="#111" stroke-width="0.8" fill="none"/>
<path d="M313.52 414.15H317.92" stroke="#111" stroke-width="0.8"/>
<path d="M205.32 421.14L208.28 415.78L202.36 415.78Z" fill="#000"/>
<path d="M227.4 430.96L230.36 425.6L224.44 425.6Z" fill="#000"/>
<path d="M256.84 441.6L259.8 436.24L253.88 436.24Z" fill="#000"/>
<path d="M271.56 441.6L274.52 436.24L268.6 436.24Z" fill="#000"/>
<path d="M315.72 441.6L318.68 436.24L312.76 436.24Z" fill="#000"/>
<path d="M205.32 420.86L208 416.07L202.64 416.07Z" fill="#fff" stroke="#000" stroke-width="0.9"/>
<path d="M227.4 418.4L230.08 413.61L224.72 413.61Z" fill="#fff" stroke="#000" stroke-width="0.9"/>
<path d="M256.84 411.04L259.52 406.25L254.16 406.25Z" fill="#fff" stroke="#000" stroke-width="0.9"/>
<path d="M271.56 422.91L274.24 418.11L268.88 418.11Z" fill="#fff" stroke="#000" stroke-width="0.9"/>
<path d="M315.72 429.45L318.4 424.66L313.04 424.66Z" fill="#fff" stroke="#000" stroke-width="0.9"/>
<rect x="202.97" y="415.08" width="4.7" height="4.7" fill="#000"/>
<rect x="225.05" y="399.73" width="4.7" height="4.7" fill="#000"/>
<rect x="254.49" y="374.77" width="4.7" height="4.7" fill="#000"/>
<rect x="269.21" y="384.39" width="4.7" height="4.7" fill="#000"/>
<rect x="313.37" y="406.48" width="4.7" height="4.7" fill="#000"/>
<rect x="202.97" y="415.08" width="4.7" height="4.7" fill="#fff" stroke="#000" stroke-width="0.9"/>
<rect x="225.05" y="405.66" width="4.7" height="4.7" fill="#fff" stroke="#000" stroke-width="0.9"/>
<rect x="254.49" y="397.48" width="4.7" height="4.7" fill="#fff" stroke="#000" stroke-width="0.9"/>
<rect x="269.21" y="394.82" width="4.7" height="4.7" fill="#fff" stroke="#000" stroke-width="0.9"/>
<rect x="313.37" y="402.6" width="4.7" height="4.7" fill="#fff" stroke="#000" stroke-width="0.9"/>
<polyline points="376.02,396.31 398.1,422.17 427.54,438.5 442.26,438.5 486.42,438.5" fill="none" stroke="#111" stroke-width="0.8"/>
<polyline points="376.02,390.46 398.1,422.17 427.54,424.89 442.26,424.89 486.42,424.89" fill="none" stroke="#111" stroke-width="0.8"/>
<path d="M376.02 386.92V394M373.82 386.92H378.22" stroke="#111" stroke-width="0.8" fill="none"/>
<path d="M373.82 394H378.22" stroke="#111" stroke-width="0.8"/>
<path d="M398.1 415.36V428.97M395.9 415.36H400.3" stroke="#111" stroke-width="0.8" fill="none"/>
<path d="M395.9 428.97H400.3" stroke="#111" stroke-width="0.8"/>
<path d="M427.54 421.49V428.29M425.34 421.49H429.74" stroke="#111" stroke-width="0.8" fill="none"/>
<path d="M425.34 428.29H429.74" stroke="#111" stroke-width="0.8"/>
<path d="M442.26 422.17V427.61M440.06 422.17H444.46" stroke="#111" stroke-width="0.8" fill="none"/>
<path d="M440.06 427.61H444.46" stroke="#111" stroke-width="0.8"/>
<path d="M486.42 420.4V429.38M484.22 420.4H488.62" stroke="#111" stroke-width="0.8" fill="none"/>
<path d="M484.22 429.38H488.62" stroke="#111" stroke-width="0.8"/>
<polyline points="376.02,397.26 398.1,411.55 427.54,394.27 442.26,390.46 486.42,404.88" fill="none" stroke="#111" stroke-width="0.8"/>
<path d="M376.02 393.18V401.34M373.82 393.18H378.22" stroke="#111" stroke-width="0.8" fill="none"/>
<path d="M373.82 401.34H378.22" stroke="#111" stroke-width="0.8"/>
<path d="M398.1 407.33V415.77M395.9 407.33H400.3" stroke="#111" stroke-width="0.8" fill="none"/>
<path d="M395.9 415.77H400.3" stroke="#111" stroke-width="0.8"/>
<path d="M427.54 378.62V409.92M425.34 378.62H429.74" stroke="#111" stroke-width="0.8" fill="none"/>
<path d="M425.34 409.92H429.74" stroke="#111" stroke-width="0.8"/>
<path d="M442.26 371.13V409.78M440.06 371.13H444.46" stroke="#111" stroke-width="0.8" fill="none"/>
<path d="M440.06 409.78H444.46" stroke="#111" stroke-width="0.8"/>
<path d="M486.42 395.36V414.41M484.22 395.36H488.62" stroke="#111" stroke-width="0.8" fill="none"/>
<path d="M484.22 414.41H488.62" stroke="#111" stroke-width="0.8"/>
<polyline points="376.02,398.62 398.1,423.12 427.54,419.85 442.26,417.27 486.42,411.55" fill="none" stroke="#111" stroke-width="0.8"/>
<path d="M376.02 395.22V402.03M373.82 395.22H378.22" stroke="#111" stroke-width="0.8" fill="none"/>
<path d="M373.82 402.03H378.22" stroke="#111" stroke-width="0.8"/>
<path d="M398.1 419.04V427.2M395.9 419.04H400.3" stroke="#111" stroke-width="0.8" fill="none"/>
<path d="M395.9 427.2H400.3" stroke="#111" stroke-width="0.8"/>
<path d="M427.54 415.77V423.94M425.34 415.77H429.74" stroke="#111" stroke-width="0.8" fill="none"/>
<path d="M425.34 423.94H429.74" stroke="#111" stroke-width="0.8"/>
<path d="M442.26 413.87V420.67M440.06 413.87H444.46" stroke="#111" stroke-width="0.8" fill="none"/>
<path d="M440.06 420.67H444.46" stroke="#111" stroke-width="0.8"/>
<path d="M486.42 408.15V414.95M484.22 408.15H488.62" stroke="#111" stroke-width="0.8" fill="none"/>
<path d="M484.22 414.95H488.62" stroke="#111" stroke-width="0.8"/>
<path d="M376.02 399.41L378.98 394.05L373.06 394.05Z" fill="#000"/>
<path d="M398.1 425.27L401.06 419.91L395.14 419.91Z" fill="#000"/>
<path d="M427.54 441.6L430.5 436.24L424.58 436.24Z" fill="#000"/>
<path d="M442.26 441.6L445.22 436.24L439.3 436.24Z" fill="#000"/>
<path d="M486.42 441.6L489.38 436.24L483.46 436.24Z" fill="#000"/>
<path d="M376.02 393.28L378.7 388.48L373.34 388.48Z" fill="#fff" stroke="#000" stroke-width="0.9"/>
<path d="M398.1 424.99L400.78 420.19L395.42 420.19Z" fill="#fff" stroke="#000" stroke-width="0.9"/>
<path d="M427.54 427.71L430.22 422.92L424.86 422.92Z" fill="#fff" stroke="#000" stroke-width="0.9"/>
<path d="M442.26 427.71L444.94 422.92L439.58 422.92Z" fill="#fff" stroke="#000" stroke-width="0.9"/>
<path d="M486.42 427.71L489.1 422.92L483.74 422.92Z" fill="#fff" stroke="#000" stroke-width="0.9"/>
<rect x="373.67" y="394.91" width="4.7" height="4.7" fill="#000"/>
<rect x="395.75" y="409.2" width="4.7" height="4.7" fill="#000"/>
<rect x="425.19" y="391.92" width="4.7" height="4.7" fill="#000"/>
<rect x="439.91" y="388.11" width="4.7" height="4.7" fill="#000"/>
<rect x="484.07" y="402.53" width="4.7" height="4.7" fill="#000"/>
<rect x="373.67" y="396.27" width="4.7" height="4.7" fill="#fff" stroke="#000" stroke-width="0.9"/>
<rect x="395.75" y="420.77" width="4.7" height="4.7" fill="#fff" stroke="#000" stroke-width="0.9"/>
<rect x="425.19" y="417.5" width="4.7" height="4.7" fill="#fff" stroke="#000" stroke-width="0.9"/>
<rect x="439.91" y="414.92" width="4.7" height="4.7" fill="#fff" stroke="#000" stroke-width="0.9"/>
<rect x="484.07" y="409.2" width="4.7" height="4.7" fill="#fff" stroke="#000" stroke-width="0.9"/>
<polygon points="66.5,426.1 67.06,427.23 68.31,427.41 67.4,428.29 67.62,429.54 66.5,428.95 65.38,429.54 65.6,428.29 64.69,427.41 65.94,427.23" fill="#000"/>
<polygon points="93,428.1 93.56,429.23 94.81,429.41 93.9,430.29 94.12,431.54 93,430.95 91.88,431.54 92.1,430.29 91.19,429.41 92.44,429.23" fill="#000"/>
<polygon points="106.3,429.3 106.86,430.43 108.11,430.61 107.2,431.49 107.42,432.74 106.3,432.15 105.18,432.74 105.4,431.49 104.49,430.61 105.74,430.43" fill="#000"/>
<polygon points="257,429.5 257.56,430.63 258.81,430.81 257.9,431.69 258.12,432.94 257,432.35 255.88,432.94 256.1,431.69 255.19,430.81 256.44,430.63" fill="#000"/>
<polygon points="272,429.5 272.56,430.63 273.81,430.81 272.9,431.69 273.12,432.94 272,432.35 270.88,432.94 271.1,431.69 270.19,430.81 271.44,430.63" fill="#000"/>
<polygon points="321,430.9 321.56,432.03 322.81,432.21 321.9,433.09 322.12,434.34 321,433.75 319.88,434.34 320.1,433.09 319.19,432.21 320.44,432.03" fill="#000"/>
<polygon points="430.5,430.9 431.06,432.03 432.31,432.21 431.4,433.09 431.62,434.34 430.5,433.75 429.38,434.34 429.6,433.09 428.69,432.21 429.94,432.03" fill="#000"/>
<polygon points="445,430.9 445.56,432.03 446.81,432.21 445.9,433.09 446.12,434.34 445,433.75 443.88,434.34 444.1,433.09 443.19,432.21 444.44,432.03" fill="#000"/>
<polygon points="487,430.9 487.56,432.03 488.81,432.21 487.9,433.09 488.12,434.34 487,433.75 485.88,434.34 486.1,433.09 485.19,432.21 486.44,432.03" fill="#000"/>
<path d="M373.8 338.8H388.3" stroke="#111" stroke-width="0.8"/>
<rect x="378.55" y="336.3" width="5" height="5" fill="#fff" stroke="#000" stroke-width="0.9"/>
<text x="391.2" y="341.7" font-size="8" text-anchor="start" fill="#000">TCR-/-</text>
<path d="M373.8 350.75H388.3" stroke="#111" stroke-width="0.8"/>
<rect x="378.55" y="348.25" width="5" height="5" fill="#000"/>
<text x="391.2" y="353.65" font-size="8" text-anchor="start" fill="#000">TCR-/- DLI</text>
<path d="M373.8 362.7H388.3" stroke="#111" stroke-width="0.8"/>
<path d="M381.05 365.7L383.9 360.6L378.2 360.6Z" fill="#fff" stroke="#000" stroke-width="0.9"/>
<text x="391.2" y="365.6" font-size="8" text-anchor="start" fill="#000">B6</text>
<path d="M373.8 374.65H388.3" stroke="#111" stroke-width="0.8"/>
<path d="M381.05 377.95L384.2 372.25L377.9 372.25Z" fill="#000"/>
<text x="391.2" y="377.55" font-size="8" text-anchor="start" fill="#000">B6 DLI</text>
</svg></body></html>
